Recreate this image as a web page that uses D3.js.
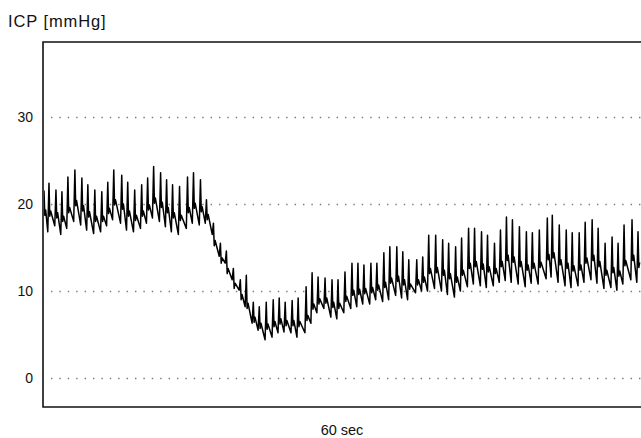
<!DOCTYPE html>
<html lang="en">
  <head>
    <meta charset="UTF-8" />
    <title>ICP trace</title>
    <script src="https://d3js.org/d3.v7.min.js"></script>
    <style>
      body { margin: 0; background: #fff; }
      svg { display: block; font-family: "Liberation Sans", Arial, sans-serif; }
    </style>
  </head>
  <body>
    <svg></svg>
    <script>
      // beat-by-beat readings from the trace (time of peak in s, mmHg)
      const peakTime = [
        0.1, 0.6, 1.3, 1.9, 2.5, 3.2, 3.9, 4.5, 5.2, 5.9, 6.5, 7.1, 7.9, 8.5,
        9.2, 9.9, 10.5, 11.1, 11.8, 12.4, 13.0, 13.7, 14.5, 15.1, 15.8, 16.4,
        17.1, 17.8, 18.4, 19.1, 19.8, 20.4, 21.1, 21.7, 22.4, 23.1, 23.7, 24.3,
        25.0, 25.6, 26.4, 27.0, 27.6, 28.3, 29.0, 29.6, 30.3, 31.0, 31.6, 32.2,
        32.9, 33.5, 34.2, 34.8, 35.5, 36.1, 36.7, 37.5, 38.1, 38.7, 39.4, 40.1,
        40.7, 41.4, 42.0, 42.7, 43.3, 44.0, 44.6, 45.3, 45.9, 46.5, 47.1, 47.8,
        48.5, 49.1, 49.8, 50.6, 51.1, 51.8, 52.5, 53.1, 53.8, 54.4, 55.1, 55.7,
        56.4, 57.1, 57.7, 58.3, 59.1, 59.7,
      ];
      const peak = [
        21.5, 22.4, 21.6, 21.4, 23.1, 23.9, 23.0, 22.2, 21.6, 21.4, 22.5, 23.9,
        23.3, 22.5, 21.6, 22.2, 23.0, 24.3, 23.6, 22.8, 22.2, 22.0, 23.1, 23.6,
        22.8, 20.5, 17.8, 15.5, 14.6, 12.6, 11.3, 11.8, 8.7, 8.2, 8.7, 9.0, 9.2,
        8.7, 8.9, 9.2, 10.5, 12.1, 11.6, 11.5, 11.3, 11.3, 12.2, 13.2, 13.2,
        13.0, 13.2, 13.2, 14.4, 15.1, 15.1, 14.5, 13.6, 13.6, 13.9, 16.4, 16.4,
        15.9, 15.5, 15.1, 16.1, 17.2, 17.2, 16.8, 16.4, 15.5, 17.0, 18.5, 18.2,
        17.4, 16.8, 16.7, 17.0, 18.4, 18.7, 17.6, 17.0, 16.7, 16.7, 17.9, 18.2,
        17.2, 15.5, 16.2, 15.5, 17.6, 18.2, 16.8,
      ];
      const trough = [
        17.5, 16.8, 17.5, 16.5, 17.2, 18.0, 17.6, 17.0, 16.6, 16.8, 17.5, 18.2,
        17.8, 17.0, 16.8, 17.2, 17.8, 18.4, 18.0, 17.4, 16.8, 16.5, 17.2, 17.8,
        17.6, 17.8, 16.5, 14.0, 13.2, 11.3, 10.1, 8.2, 6.3, 5.5, 4.4, 4.7, 5.2,
        5.3, 5.2, 4.7, 5.2, 6.3, 7.5, 8.0, 7.0, 6.8, 7.5, 8.0, 8.2, 8.5, 8.5,
        9.0, 8.8, 9.0, 9.5, 9.2, 9.0, 9.8, 10.0, 10.0, 10.3, 10.0, 9.6, 9.3,
        10.0, 10.5, 10.8, 10.6, 10.4, 10.6, 11.0, 11.2, 11.0, 10.8, 10.5, 10.9,
        10.8, 11.4, 11.6, 11.0, 10.6, 10.4, 10.6, 11.0, 11.3, 10.9, 10.3, 10.4,
        10.1, 10.8, 11.3, 11.0,
      ];
      const second = [
        19.3, 19.2, 19.0, 18.6, 19.6, 20.4, 19.8, 19.1, 18.6, 18.6, 19.5, 20.5,
        20.0, 19.2, 18.7, 19.2, 19.9, 20.7, 20.2, 19.6, 19.0, 18.7, 19.6, 20.1,
        19.7, 18.8, 15.8, 13.8, 12.6, 10.9, 9.6, 8.6, 7.0, 6.3, 6.2, 6.5, 6.8,
        6.6, 6.6, 6.5, 7.2, 8.5, 9.1, 9.2, 8.7, 8.6, 9.4, 10.1, 10.2, 10.3,
        10.4, 10.7, 11.0, 11.5, 11.7, 11.3, 10.8, 11.3, 11.6, 12.6, 12.7, 12.4,
        12.0, 11.6, 12.4, 13.2, 13.4, 13.1, 12.8, 12.6, 13.4, 14.1, 13.9, 13.4,
        13.0, 13.2, 13.3, 14.2, 14.4, 13.6, 13.2, 12.9, 13.0, 13.8, 14.1, 13.4,
        12.4, 12.7, 12.3, 13.5, 14.1, 13.3,
      ];
      const yTicks = [0, 10, 20, 30];
      const yLabel = "ICP [mmHg]";
      const xLabel = "60 sec";

      const width = 641,
        height = 438;
      const margin = { top: 42, right: 0, bottom: 31, left: 43 };

      const svg = d3
        .select("svg")
        .attr("width", width)
        .attr("height", height)
        .attr("viewBox", "0 0 " + width + " " + height);

      const x = d3
        .scaleLinear()
        .domain([0, 60])
        .range([margin.left, width - margin.right]);
      const y = d3
        .scaleLinear()
        .domain([-3.33, 38.62])
        .range([height - margin.bottom, margin.top]);

      // dotted grid
      svg
        .append("g")
        .attr("transform", "translate(" + margin.left + ",0)")
        .call(
          d3
            .axisLeft(y)
            .tickValues(yTicks)
            .tickSize(-(width - margin.left))
            .tickFormat("")
        )
        .call((g) => g.select(".domain").remove())
        .call((g) =>
          g
            .selectAll("line")
            .attr("x1", 8)
            .attr("stroke", "#7a7a7a")
            .attr("stroke-width", 1.4)
            .attr("stroke-dasharray", "1.4 7")
        );

      // tick labels
      svg
        .append("g")
        .attr("transform", "translate(" + margin.left + ",0)")
        .call(d3.axisLeft(y).tickValues(yTicks).tickSize(0).tickPadding(10))
        .call((g) => g.select(".domain").remove())
        .call((g) =>
          g
            .selectAll("text")
            .attr("font-size", 14)
            .attr("fill", "#111")
            .attr("font-family", "Liberation Sans, Arial, sans-serif")
        );

      // pulse shape per beat: steep upstroke, small dip, second wave, fall
      const pts = [];
      peakTime.forEach((t, i) => {
        pts.push([t - 0.12, trough[i]]);
        pts.push([t, peak[i]]);
        pts.push([t + 0.08, second[i] - 0.6]);
        pts.push([t + 0.17, second[i]]);
      });

      svg
        .append("clipPath")
        .attr("id", "clip")
        .append("rect")
        .attr("x", margin.left + 1)
        .attr("y", margin.top)
        .attr("width", width - margin.left)
        .attr("height", height - margin.top - margin.bottom);

      const line = d3
        .line()
        .x((d) => x(d[0]))
        .y((d) => y(d[1]));

      svg
        .append("path")
        .datum(pts)
        .attr("clip-path", "url(#clip)")
        .attr("fill", "none")
        .attr("stroke", "#000")
        .attr("stroke-width", 1.5)
        .attr("stroke-linejoin", "round")
        .attr("d", line);

      // frame (open on the right)
      const x0 = margin.left,
        x1 = width + 5,
        yTop = margin.top,
        yBot = height - margin.bottom;
      svg
        .append("path")
        .attr("d", `M${x1},${yTop}H${x0}V${yBot}H${x1}`)
        .attr("fill", "none")
        .attr("stroke", "#111")
        .attr("stroke-width", 1.6);

      svg
        .append("text")
        .attr("x", 8)
        .attr("y", 27)
        .attr("font-size", 16.5)
        .attr("letter-spacing", 0.9)
        .attr("fill", "#111")
        .text(yLabel);

      svg
        .append("text")
        .attr("x", (x0 + width) / 2)
        .attr("y", 435)
        .attr("text-anchor", "middle")
        .attr("font-size", 14.5)
        .attr("fill", "#111")
        .text(xLabel);
    </script>
  </body>
</html>
